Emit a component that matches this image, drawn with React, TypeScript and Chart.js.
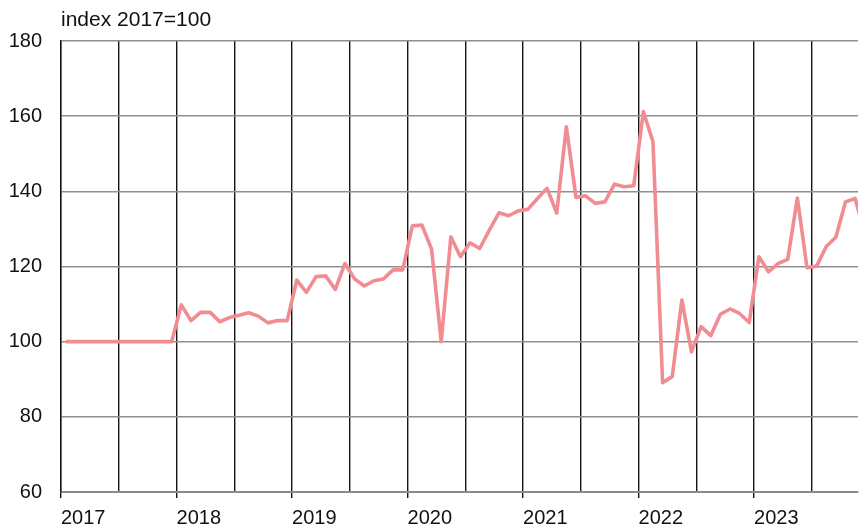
import React, { useEffect, useRef } from "react";
import { Chart, registerables } from "chart.js";

Chart.register(...registerables);

const years = [2017, 2018, 2019, 2020, 2021, 2022, 2023];
const yearLabels = ["2017", "2018", "2019", "2020", "2021", "2022", "2023"];
const values2017 = [100, 100, 100, 100, 100, 100, 100, 100, 100, 100, 100, 100];
const values2018 = [109.8, 105.6, 107.8, 107.8, 105.3, 106.4, 107.0, 107.7, 106.8, 105.0, 105.6, 105.6];
const values2019 = [116.4, 113.1, 117.3, 117.5, 113.9, 120.8, 116.7, 114.8, 116.2, 116.7, 119.1, 119.1];
const values2020 = [130.8, 131.0, 124.6, 100.0, 127.9, 122.6, 126.3, 124.8, 129.7, 134.3, 133.5, 134.8];
const values2021 = [135.2, 138.1, 140.8, 134.2, 157.2, 138.4, 138.8, 136.8, 137.2, 141.9, 141.2, 141.5];
const values2022 = [161.2, 153.2, 89.1, 90.7, 111.1, 97.3, 104.0, 101.6, 107.3, 108.7, 107.5, 105.1];
const values2023 = [122.6, 118.6, 120.8, 121.9, 138.2, 119.7, 120.1, 125.3, 127.8, 137.2, 138.1, 129.0];
const yearValues = [values2017, values2018, values2019, values2020, values2021, values2022, values2023];
const yTicks = [60, 80, 100, 120, 140, 160, 180];
const titleText = "index 2017=100";

export default function App() {
  const ref = useRef<HTMLCanvasElement | null>(null);

  useEffect(() => {
    if (!ref.current) return;
    const points: { x: number; y: number }[] = [];
    years.forEach((_, yi) => {
      yearValues[yi].forEach((v, m) => {
        points.push({ x: yi * 12 + m + 0.5, y: v });
      });
    });

    const titlePlugin = {
      id: "cornerTitle",
      afterDraw(chart: any) {
        const { ctx, chartArea } = chart;
        ctx.save();
        ctx.font = "21px 'Liberation Sans', Arial, sans-serif";
        ctx.fillStyle = "#111";
        ctx.textAlign = "left";
        ctx.textBaseline = "alphabetic";
        ctx.fillText(titleText, chartArea.left, 26);
        ctx.restore();
      },
    };

    const chart = new Chart(ref.current, {
      type: "line",
      data: {
        datasets: [
          {
            data: points,
            borderColor: "#F18C92",
            borderWidth: 3.6,
            pointRadius: 0,
            tension: 0,
            fill: false,
            borderJoinStyle: "round",
            borderCapStyle: "butt",
          },
        ],
      },
      options: {
        animation: false,
        responsive: true,
        maintainAspectRatio: false,
        layout: { padding: { top: 41, right: 1, left: 0, bottom: 0 } },
        plugins: { legend: { display: false }, tooltip: { enabled: false }, title: { display: false } },
        scales: {
          x: {
            type: "linear",
            min: 0,
            max: 82.8,
            afterBuildTicks: (axis: any) => {
              const t: { value: number }[] = [];
              for (let v = 0; v <= 78; v += 6) t.push({ value: v });
              axis.ticks = t;
            },
            afterFit: (axis: any) => {
              axis.height = 38;
            },
            ticks: {
              autoSkip: false,
              maxRotation: 0,
              minRotation: 0,
              align: "start",
              padding: 8,
              color: "#111",
              font: { family: "'Liberation Sans', Arial, sans-serif", size: 20 },
              callback: (value: any) => {
                const v = Number(value);
                return v % 12 === 0 ? yearLabels[v / 12] : "";
              },
            },
            grid: {
              color: "#151515",
              lineWidth: 1.4,
              drawTicks: true,
              tickLength: 6,
              tickColor: (c: any) => (c.tick && c.tick.value % 12 === 0 ? "#151515" : "rgba(0,0,0,0)"),
            },
            border: { display: true, color: "#8a8a8a", width: 2 },
          },
          y: {
            min: 60,
            max: 180,
            afterBuildTicks: (axis: any) => {
              axis.ticks = yTicks.map((v) => ({ value: v }));
            },
            afterFit: (axis: any) => {
              axis.width = 61;
            },
            ticks: {
              padding: 19,
              color: "#111",
              font: { family: "'Liberation Sans', Arial, sans-serif", size: 20 },
            },
            grid: { color: "#8f8f8f", lineWidth: 1.5, drawTicks: false },
            border: { display: true, color: "#151515", width: 1.4 },
          },
        },
      },
      plugins: [titlePlugin],
    });
    return () => chart.destroy();
  }, []);

  return (
    <div style={{ position: "fixed", left: 0, top: 0, width: 859, height: 530, background: "#fff" }}>
      <canvas ref={ref} />
    </div>
  );
}
